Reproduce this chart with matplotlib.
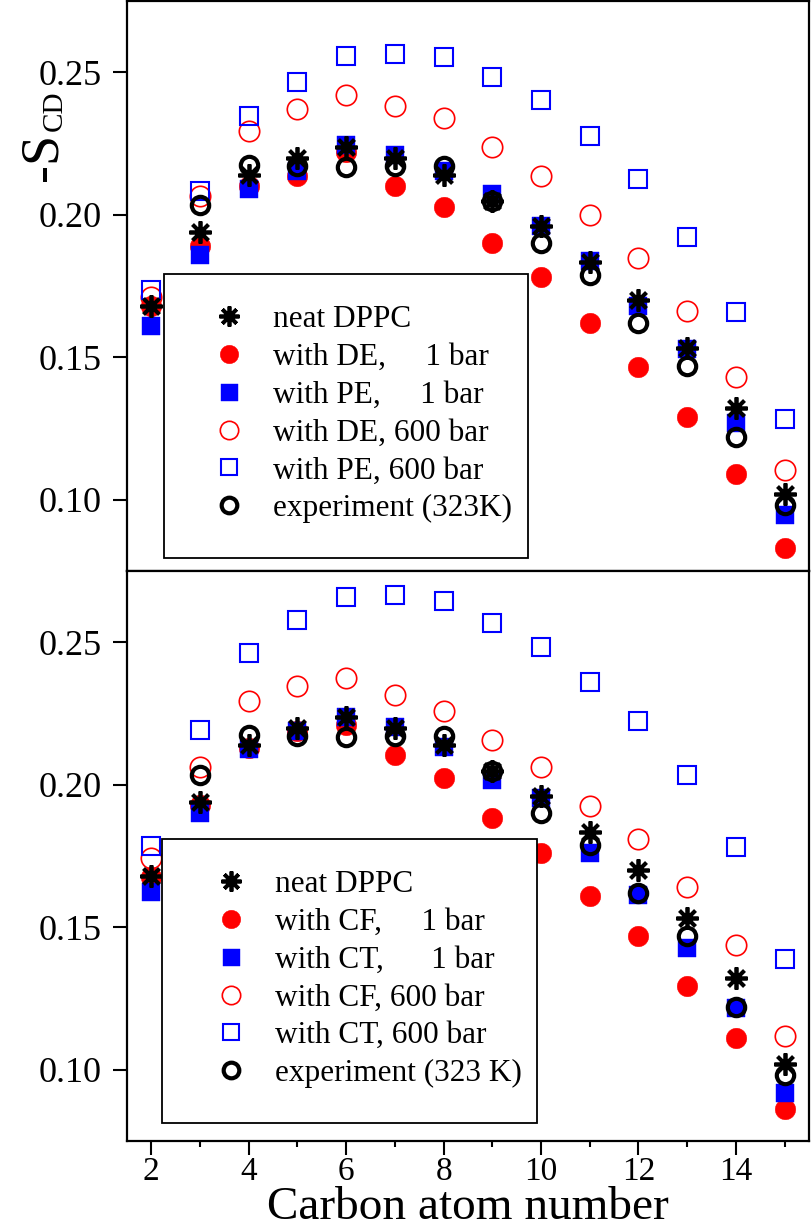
import matplotlib
matplotlib.use('Agg')
import matplotlib.pyplot as plt
from matplotlib.patches import Rectangle

plt.rcParams['font.family'] = ['Liberation Serif', 'DejaVu Serif']

# ---------------- data ----------------
carbons = [2, 3, 4, 5, 6, 7, 8, 9, 10, 11, 12, 13, 14, 15]
exp_carbons = [3, 4, 5, 6, 7, 8, 9, 10, 11, 12, 13, 14, 15]

neat_dppc = [0.168, 0.194, 0.2138, 0.220, 0.2237, 0.220, 0.2138, 0.205, 0.196, 0.1835, 0.170, 0.1534, 0.1323, 0.1019]
experiment = [0.2033, 0.2173, 0.217, 0.2167, 0.217, 0.217, 0.205, 0.190, 0.179, 0.162, 0.147, 0.122, 0.098]

# top panel
de_1bar = [0.168, 0.189, 0.210, 0.2135, 0.222, 0.210, 0.2027, 0.190, 0.178, 0.162, 0.1465, 0.129, 0.109, 0.083]
pe_1bar = [0.161, 0.186, 0.2092, 0.2155, 0.2245, 0.221, 0.2155, 0.2074, 0.196, 0.1836, 0.168, 0.153, 0.127, 0.0945]
de_600bar = [0.171, 0.2065, 0.2295, 0.2371, 0.2421, 0.2383, 0.2339, 0.2237, 0.2136, 0.1998, 0.1848, 0.1663, 0.143, 0.1104]
pe_600bar = [0.1735, 0.2085, 0.2346, 0.2465, 0.2556, 0.2564, 0.2555, 0.2485, 0.2404, 0.2275, 0.2124, 0.1922, 0.166, 0.1282]

# bottom panel
cf_1bar = [0.1675, 0.193, 0.213, 0.219, 0.221, 0.2105, 0.2023, 0.1884, 0.176, 0.1608, 0.1468, 0.1293, 0.1112, 0.0862]
ct_1bar = [0.1623, 0.190, 0.2125, 0.219, 0.2238, 0.2203, 0.2134, 0.2018, 0.1953, 0.1762, 0.1614, 0.1427, 0.1217, 0.092]
cf_600bar = [0.1744, 0.2062, 0.2293, 0.2345, 0.2375, 0.2315, 0.226, 0.2158, 0.2063, 0.1927, 0.1808, 0.164, 0.1436, 0.1118]
ct_600bar = [0.1784, 0.2191, 0.2462, 0.2578, 0.266, 0.2665, 0.2645, 0.2568, 0.2485, 0.236, 0.2224, 0.2035, 0.178, 0.1389]

labels_top = ['neat DPPC', 'with DE,     1 bar', 'with PE,     1 bar',
              'with DE, 600 bar', 'with PE, 600 bar', 'experiment (323K)']
labels_bottom = ['neat DPPC', 'with CF,     1 bar', 'with CT,      1 bar',
                 'with CF, 600 bar', 'with CT, 600 bar', 'experiment (323 K)']

y_ticks = [0.10, 0.15, 0.20, 0.25]
y_ticklabels = ['0.10', '0.15', '0.20', '0.25']
x_major = [2, 4, 6, 8, 10, 12, 14]
x_minor = [3, 5, 7, 9, 11, 13, 15]
x_ticklabels = ['2', '4', '6', '8', '10', '12', '14']

# ---------------- styles ----------------
RED = '#ff0000'
BLUE = '#0000ff'
st_open_c = dict(ls='none', marker='o', mfc='none', mec=RED, ms=14.7, mew=1.2)
st_open_s = dict(ls='none', marker='s', mfc='none', mec=BLUE, ms=12.6, mew=1.5)
st_fill_c = dict(ls='none', marker='o', mfc=RED, mec=RED, ms=14.8, mew=0.3)
st_fill_s = dict(ls='none', marker='s', mfc=BLUE, mec=BLUE, ms=13.6, mew=0.3)
st_star = dict(ls='none', marker=(8, 2, 0), color='black', mec='black', ms=16, mew=2.7)
st_exp = dict(ls='none', marker='o', mfc='none', mec='black', ms=12.5, mew=3.0)

W, H = 812, 1230
fig = plt.figure(figsize=(W / 100, H / 100), dpi=100)
L, R = 127 / W, 809 / W
ax_top = fig.add_axes([L, (H - 571) / H, R - L, 570 / H])
ax_bot = fig.add_axes([L, (H - 1141) / H, R - L, 570 / H])


def panel(ax, s1, s2, s3, s4, labels, rect, anchor):
    h_o1, = ax.plot(carbons, s3, **st_open_c, zorder=3)
    h_o2, = ax.plot(carbons, s4, **st_open_s, zorder=3.1)
    h_f1, = ax.plot(carbons, s1, **st_fill_c, zorder=3.2)
    h_f2, = ax.plot(carbons, s2, **st_fill_s, zorder=3.3)
    h_st, = ax.plot(carbons, neat_dppc, **st_star, zorder=3.4)
    h_ex, = ax.plot(exp_carbons, experiment, **st_exp, zorder=3.5)
    ax.set_xlim(1.5, 15.5)
    ax.set_ylim(0.075, 0.275)
    ax.set_yticks(y_ticks)
    ax.set_yticklabels(y_ticklabels)
    ax.tick_params(axis='y', direction='out', length=10, width=1.5, labelsize=26, pad=8)
    for sp in ax.spines.values():
        sp.set_linewidth(1.6)
    x0, y0, x1, y1 = rect
    ax.add_patch(Rectangle((x0, y0), x1 - x0, y1 - y0, transform=ax.transAxes,
                           facecolor='white', edgecolor='black', lw=1.3, zorder=10))
    leg = ax.legend([h_st, h_f1, h_f2, h_o1, h_o2, h_ex], labels,
                    loc='upper left', bbox_to_anchor=anchor, bbox_transform=ax.transAxes,
                    frameon=False, borderpad=0, borderaxespad=0, fontsize=22.5,
                    handlelength=1.0, handletextpad=0.9, labelspacing=0.28,
                    numpoints=1, markerscale=0.9)
    leg.set_zorder(11)


panel(ax_top, de_1bar, pe_1bar, de_600bar, pe_600bar, labels_top,
      (0.0543, 0.0228, 0.588, 0.521), (0.127, 0.466))
panel(ax_bot, cf_1bar, ct_1bar, cf_600bar, ct_600bar, labels_bottom,
      (0.0513, 0.0316, 0.601, 0.530), (0.130, 0.475))

ax_top.tick_params(axis='x', bottom=False, labelbottom=False)
ax_bot.set_xticks(x_major)
ax_bot.set_xticklabels(x_ticklabels)
ax_bot.set_xticks(x_minor, minor=True)
ax_bot.tick_params(axis='x', which='major', direction='out', length=10, width=1.5, labelsize=24, pad=1)
ax_bot.tick_params(axis='x', which='minor', direction='out', length=4.5, width=1.5)

# x label placed so it sits at the very bottom of the figure
fig.text((L + R) / 2, 1.0 / H, 'Carbon atom number', ha='center', va='bottom', fontsize=34)

# y label "-S_CD" (rotated), placed in the upper part of the top panel
fig.text(57 / W, 1 - 181 / H, '-S', rotation=90, rotation_mode='anchor',
         ha='left', va='baseline', fontsize=39)
fig.text(62 / W, 1 - 131 / H, 'CD', rotation=90, rotation_mode='anchor',
         ha='left', va='baseline', fontsize=21)

fig.savefig('out.png', dpi=100)
